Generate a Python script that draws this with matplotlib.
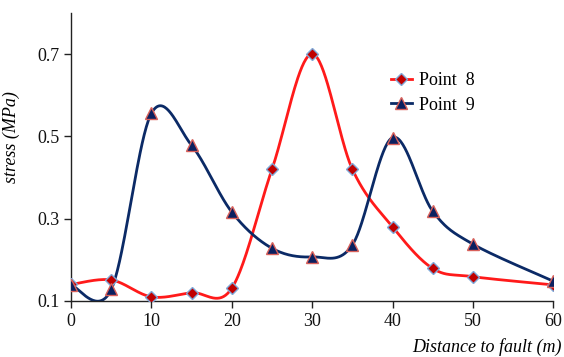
import numpy as np
import matplotlib
matplotlib.use("Agg")
import matplotlib.pyplot as plt
from matplotlib.lines import Line2D

plt.rcParams['font.family'] = ['Liberation Serif', 'DejaVu Serif']

distance = [0, 5, 10, 15, 20, 25, 30, 35, 40, 45, 50, 60]
point8 = [0.14, 0.151, 0.11, 0.12, 0.131, 0.42, 0.70, 0.42, 0.28, 0.179, 0.159, 0.139]
point9 = [0.139, 0.128, 0.556, 0.478, 0.316, 0.228, 0.207, 0.236, 0.497, 0.318, 0.238, 0.148]
xticks = [0, 10, 20, 30, 40, 50, 60]
yticks = [0.1, 0.3, 0.5, 0.7]


def smooth(x, y, n=40):
    x = np.asarray(x, float)
    y = np.asarray(y, float)
    P = np.column_stack([x, y])
    Pe = np.vstack([P[0], P, P[-1]])
    out = []
    t = np.linspace(0, 1, n)[:, None]
    for i in range(len(P) - 1):
        p0 = Pe[i + 1]
        p3 = Pe[i + 2]
        c1 = p0 + (Pe[i + 2] - Pe[i]) / 6.0
        c2 = p3 - (Pe[i + 3] - Pe[i + 1]) / 6.0
        seg = (1 - t) ** 3 * p0 + 3 * (1 - t) ** 2 * t * c1 + 3 * (1 - t) * t ** 2 * c2 + t ** 3 * p3
        out.append(seg if i == 0 else seg[1:])
    s = np.vstack(out)
    return s[:, 0], s[:, 1]


fig = plt.figure(figsize=(5.64, 3.57), dpi=100)
ax = fig.add_axes([0.126, 0.157, 0.855, 0.807])

navy = '#0b2a66'
red = '#ff1a1a'
fs = 13

sx, sy = smooth(distance, point8)
ax.plot(sx, sy, color=red, lw=2.0, zorder=2)
ax.plot(distance, point8, ls='none', marker='D', ms=6.5, mfc='#c00000',
        mec='#7fa8d8', mew=1.0, zorder=4)

sx, sy = smooth(distance, point9)
ax.plot(sx, sy, color=navy, lw=2.0, zorder=2)
ax.plot(distance, point9, ls='none', marker='^', ms=8.5, mfc='#0b2060',
        mec='#d9605a', mew=1.0, zorder=4)

ax.set_xlim(0, 60)
ax.set_ylim(0.1, 0.8)
ax.set_xticks(xticks)
ax.set_xticklabels([str(v) for v in xticks])
ax.set_yticks(yticks)
ax.set_yticklabels([f'{v:.1f}' for v in yticks])
for s in ['top', 'right']:
    ax.spines[s].set_visible(False)
for s in ['left', 'bottom']:
    ax.spines[s].set_color('#222222')
    ax.spines[s].set_linewidth(1.0)
ax.tick_params(direction='out', length=5, width=1, labelsize=fs, colors='#222222',
               labelcolor='#111111')
ax.tick_params(axis='x', pad=4)

ax.set_ylabel('stress (MPa)', style='italic', fontsize=fs)
ax.yaxis.set_label_coords(-0.105, 0.57)
fig.text(562 / 564, 5 / 357, 'Distance to fault (m)', style='italic', fontsize=fs,
         ha='right', va='baseline')

h1 = Line2D([], [], color=red, lw=2, marker='D', ms=6.5, mfc='#c00000', mec='#7fa8d8')
h2 = Line2D([], [], color=navy, lw=2, marker='^', ms=8.5, mfc='#0b2060', mec='#d9605a')
ax.legend([h1, h2], ['Point  8', 'Point  9'], loc='upper left', bbox_to_anchor=(0.629, 0.85),
          frameon=False, fontsize=fs, handlelength=1.2, handletextpad=0.35,
          labelspacing=0.4)

fig.savefig('out.png', dpi=100)
